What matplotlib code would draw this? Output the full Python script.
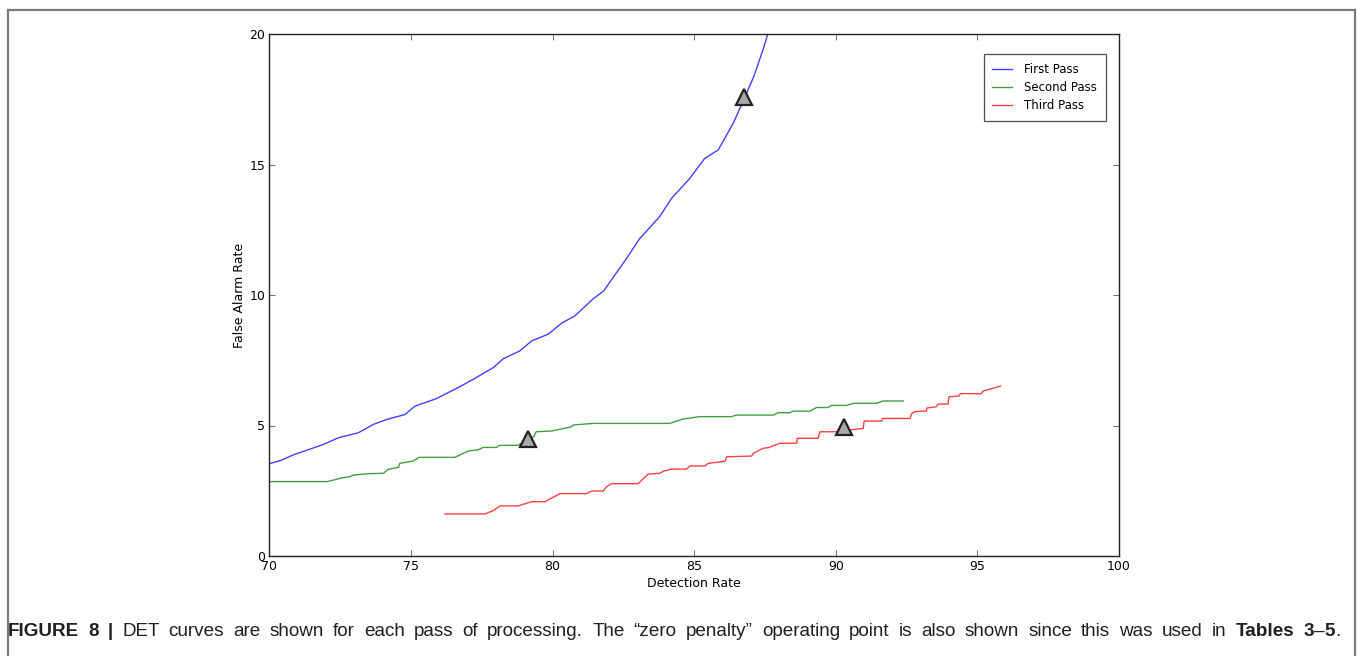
import matplotlib
matplotlib.use("Agg")
import matplotlib.pyplot as plt
from matplotlib.lines import Line2D

# ---------------- data ----------------
first_x = [70.0, 70.38, 70.86, 71.9, 72.44, 73.14, 73.67, 74.14, 74.79, 75.14, 75.9, 76.73,
           77.2, 77.91, 78.26, 78.85, 79.26, 79.85, 80.32, 80.79, 81.43, 81.8, 82.55, 83.07,
           83.78, 84.2, 84.84, 85.37, 85.85, 86.38, 86.8, 87.1, 87.43, 87.6]
first_y = [3.54, 3.65, 3.88, 4.27, 4.53, 4.72, 5.04, 5.23, 5.42, 5.74, 6.03, 6.49,
           6.77, 7.22, 7.56, 7.86, 8.24, 8.5, 8.92, 9.2, 9.85, 10.15, 11.3, 12.15,
           13.0, 13.7, 14.46, 15.23, 15.56, 16.58, 17.6, 18.36, 19.39, 20.0]

second_x = [70.0, 72.04, 72.38, 72.55, 72.85, 72.97, 73.44, 74.03, 74.2, 74.56, 74.61, 75.08,
            75.29, 76.55, 77.02, 77.38, 77.55, 78.02, 78.12, 78.79, 78.97, 79.34, 79.42, 79.97,
            80.67, 80.73, 81.43, 84.14, 84.61, 85.2, 86.32, 86.5, 87.79, 87.97, 88.38, 88.5,
            89.09, 89.32, 89.73, 89.85, 90.38, 90.62, 91.44, 91.67, 92.38]
second_y = [2.85, 2.85, 2.94, 2.99, 3.04, 3.1, 3.15, 3.17, 3.32, 3.4, 3.55, 3.64,
            3.78, 3.78, 4.02, 4.07, 4.16, 4.16, 4.24, 4.24, 4.38, 4.57, 4.76, 4.79,
            4.95, 5.02, 5.08, 5.08, 5.25, 5.34, 5.34, 5.4, 5.4, 5.49, 5.49, 5.55,
            5.55, 5.69, 5.69, 5.77, 5.77, 5.85, 5.85, 5.94, 5.94]

third_x = [76.2, 77.61, 77.91, 78.15, 78.79, 79.26, 79.73, 80.26, 81.2, 81.38, 81.79, 81.91,
           82.08, 83.02, 83.38, 83.79, 83.91, 84.2, 84.73, 84.85, 85.38, 85.5, 86.09, 86.15,
           87.03, 87.09, 87.44, 87.62, 88.03, 88.62, 88.64, 89.38, 89.44, 89.97, 90.97, 91.0,
           91.62, 91.65, 92.62, 92.67, 92.79, 93.2, 93.22, 93.55, 93.61, 93.96, 94.0, 94.35,
           94.4, 95.14, 95.2, 95.82]
third_y = [1.61, 1.61, 1.74, 1.92, 1.92, 2.08, 2.08, 2.39, 2.39, 2.49, 2.49, 2.66,
           2.77, 2.77, 3.14, 3.17, 3.25, 3.33, 3.33, 3.45, 3.45, 3.55, 3.63, 3.8,
           3.83, 3.93, 4.13, 4.15, 4.32, 4.32, 4.51, 4.51, 4.76, 4.76, 4.89, 5.17,
           5.17, 5.27, 5.27, 5.44, 5.53, 5.56, 5.67, 5.72, 5.82, 5.82, 6.1, 6.13,
           6.22, 6.22, 6.32, 6.51]

op_x = [86.75, 79.15, 90.3]
op_y = [17.6, 4.5, 4.95]

series_labels = ["First Pass", "Second Pass", "Third Pass"]
x_ticks = [70, 75, 80, 85, 90, 95, 100]
y_ticks = [0, 5, 10, 15, 20]

caption_parts = [
    ("FIGURE 8 | ", "bold"),
    ("DET curves are shown for each pass of processing. The \u201czero penalty\u201d operating point is also shown since this was used in ", "normal"),
    ("Tables 3", "bold"),
    ("\u2013", "normal"),
    ("5", "bold"),
    (".", "normal"),
]

# ---------------- figure ----------------
W, H = 1357, 656
fig = plt.figure(figsize=(W / 100, H / 100), dpi=100)
fig.patch.set_facecolor("white")

ax = fig.add_axes([269.3 / W, 1 - 556 / H, (1119 - 269.3) / W, (556 - 34) / H])
colors = ["#0000ff", "#008000", "#ff0000"]
for xs, ys, c, lab in zip([first_x, second_x, third_x], [first_y, second_y, third_y],
                          colors, series_labels):
    ax.plot(xs, ys, color=c, lw=1.0, alpha=0.75, label=lab)
ax.plot(op_x, op_y, linestyle="none", marker="^", markersize=11,
        markerfacecolor="#a8a8a8", markeredgecolor="#222222", markeredgewidth=1.6, zorder=5)

ax.set_xlim(70, 100)
ax.set_ylim(0, 20)
ax.set_xticks(x_ticks)
ax.set_yticks(y_ticks)
ax.tick_params(direction="in", length=4, width=0.6, labelsize=9, color="#555555",
               top=True, right=True, pad=3)
for s in ax.spines.values():
    s.set_linewidth(1.0)
    s.set_color("#222222")
ax.set_xlabel("Detection Rate", fontsize=9, labelpad=3)
ax.set_ylabel("False Alarm Rate", fontsize=9, labelpad=2)

leg = ax.legend(loc="upper right", bbox_to_anchor=(1106 / W, 1 - 54 / H),
                bbox_transform=fig.transFigure, fontsize=8.5, frameon=True,
                fancybox=False, edgecolor="#222222", handlelength=1.7,
                borderpad=0.75, labelspacing=0.42, handletextpad=1.0, borderaxespad=0)
leg.get_frame().set_linewidth(0.9)

# outer frame (top, left, right; open at bottom)
frame_color = "#7a7a7a"
fig.add_artist(Line2D([7.5 / W, 1354.5 / W], [1 - 9.5 / H, 1 - 9.5 / H], color=frame_color, lw=1.6,
                      transform=fig.transFigure))
fig.add_artist(Line2D([7.5 / W, 7.5 / W], [0, 1 - 9.5 / H], color=frame_color, lw=1.6,
                      transform=fig.transFigure))
fig.add_artist(Line2D([1354.5 / W, 1354.5 / W], [0, 1 - 9.5 / H], color=frame_color, lw=1.6,
                      transform=fig.transFigure))

# caption: words laid out left to right, spacing stretched slightly to the reference's line length
cap_family = "Liberation Sans"
cap_size = 13.6
fig.canvas.draw()
renderer = fig.canvas.get_renderer()

segments = []
for txt, wt in caption_parts:
    words = txt.split(" ")
    for i, w in enumerate(words):
        if i > 0:
            segments.append((None, None))
        if w:
            segments.append((w, wt))

y_fig = 1 - 636 / H
probe = fig.text(0, 0, "a a", fontsize=cap_size, family=cap_family)
w_aa = probe.get_window_extent(renderer=renderer).width
probe.set_text("aa")
space_w = w_aa - probe.get_window_extent(renderer=renderer).width
probe.remove()

items = []
natural = 0.0
n_spaces = 0
for w, wt in segments:
    if w is None:
        items.append(None)
        natural += space_w
        n_spaces += 1
    else:
        t = fig.text(0, y_fig, w, fontsize=cap_size, fontweight=wt, family=cap_family,
                     color="#231f20", ha="left", va="baseline")
        bw = t.get_window_extent(renderer=renderer).width
        items.append((t, bw))
        natural += bw

x_start, x_end = 8.0, 1340.0
extra = max(0.0, (x_end - x_start - natural) / max(n_spaces, 1))
extra = min(extra, 4.0)
x_px = x_start
for it in items:
    if it is None:
        x_px += space_w + extra
    else:
        t, bw = it
        t.set_x(x_px / W)
        x_px += bw

fig.savefig("out.png", dpi=100, facecolor="white")
